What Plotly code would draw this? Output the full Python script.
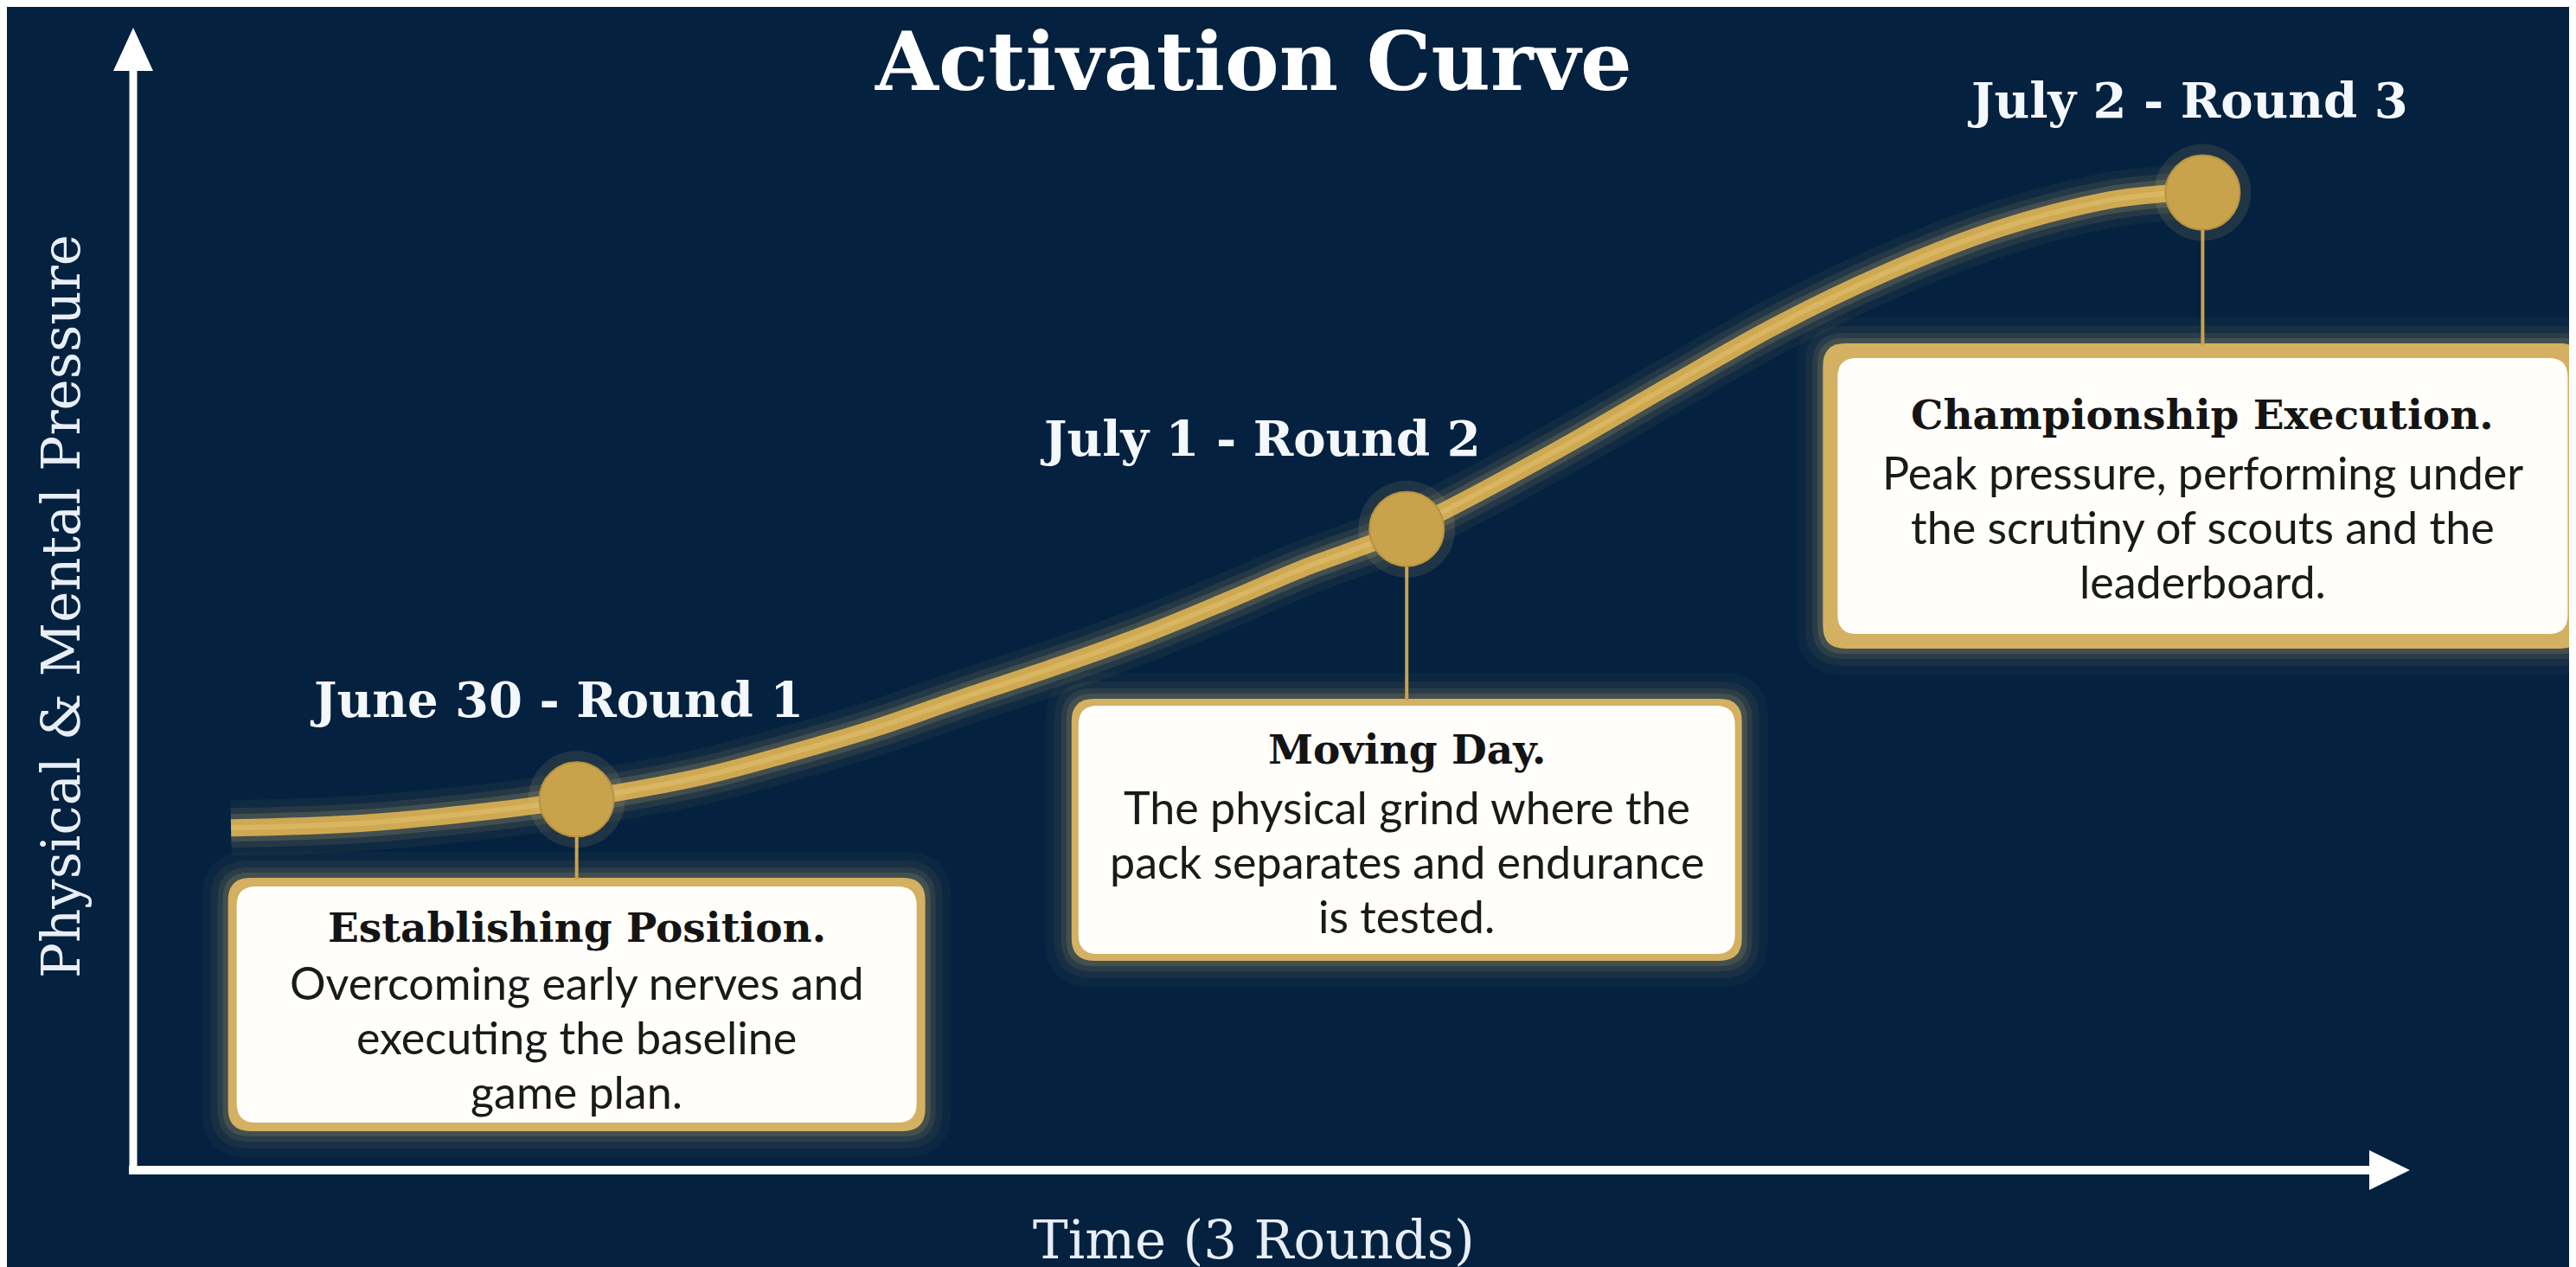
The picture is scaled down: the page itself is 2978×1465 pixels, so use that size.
import plotly.graph_objects as go

# ---------------- data ----------------
curve_time = [4.3, 10.0, 15.8, 19.5, 25.0, 28.8, 32.7, 36.6, 40.5, 44.4, 48.2, 51.5,
              56.0, 62.6, 67.4, 72.3, 77.1, 82.0, 86.8, 89.3, 91.0]
curve_pressure = [30.0, 30.4, 31.5, 32.5, 34.5, 36.5, 38.8, 41.5, 44.1, 46.9, 50.0, 52.8,
                  56.2, 63.1, 68.6, 74.1, 78.7, 82.5, 85.0, 85.6, 85.8]
round_labels = ["June 30 - Round 1", "July 1 - Round 2", "July 2 - Round 3"]
round_time = [19.5, 56.0, 91.0]
round_pressure = [32.5, 56.2, 85.7]
headlines = ["Establishing Position.", "Moving Day.", "Championship Execution."]
descriptions = [
    ["Overcoming early nerves and", "executing the baseline", "game plan."],
    ["The physical grind where the", "pack separates and endurance", "is tested."],
    ["Peak pressure, performing under", "the scrutiny of scouts and the", "leaderboard."],
]
title_text = "Activation Curve"
x_title = "Time (3 Rounds)"
y_title = "Physical & Mental Pressure"

# ---------------- layout / style ----------------
W, H = 2978, 1465
PL, PR, PT, PB = 146, 2775, 26, 1345   # plot area in pixels
BG = "#04213f"
GOLD = "#cfa952"
GOLD_LIGHT = "#e6c677"
SERIF = "DejaVu Serif"
SANS = "Lato"

box_w = [806, 775, 878]
box_h = [293, 303, 353]
box_top = [1007, 800, 389]
box_border = [10, 8, 17]
head_off = [57, 59, 82]
body_off = [121, 125, 149]
line_gap = 63
label_shift = [(-23, 115), (-169, 105), (-17, 107)]


def pxx(px):
    return (px - PL) / (PR - PL)


def pxy(py):
    return (PB - py) / (PB - PT)


def data_to_px_x(t):
    return PL + t / 100 * (PR - PL)


def data_y_from_px(py):
    return (PB - py) / (PB - PT) * 100


def rr_path(x0, y0, x1, y1, r):
    pts = [
        ("M", [(x0 + r, y0)]), ("L", [(x1 - r, y0)]), ("Q", [(x1, y0), (x1, y0 + r)]),
        ("L", [(x1, y1 - r)]), ("Q", [(x1, y1), (x1 - r, y1)]), ("L", [(x0 + r, y1)]),
        ("Q", [(x0, y1), (x0, y1 - r)]), ("L", [(x0, y0 + r)]), ("Q", [(x0, y0), (x0 + r, y0)]),
    ]
    s = ""
    for cmd, ps in pts:
        s += cmd + " " + " ".join(f"{pxx(a):.5f},{pxy(b):.5f}" for a, b in ps) + " "
    return s + "Z"


fig = go.Figure()

# curve glow
for wdt, op in [(64, 0.05), (46, 0.09), (32, 0.16)]:
    fig.add_trace(go.Scatter(x=curve_time, y=curve_pressure, mode="lines",
                             line=dict(color=GOLD_LIGHT, width=wdt, shape="spline", smoothing=1.0),
                             opacity=op, hoverinfo="skip", showlegend=False))
fig.add_trace(go.Scatter(x=curve_time, y=curve_pressure, mode="lines",
                         line=dict(color=GOLD, width=20, shape="spline", smoothing=1.0),
                         hoverinfo="skip", showlegend=False))
fig.add_trace(go.Scatter(x=curve_time, y=curve_pressure, mode="lines",
                         line=dict(color=GOLD_LIGHT, width=6, shape="spline", smoothing=1.0),
                         opacity=0.45, hoverinfo="skip", showlegend=False))

# markers
fig.add_trace(go.Scatter(x=round_time, y=round_pressure, mode="markers",
                         marker=dict(size=112, color=GOLD_LIGHT, opacity=0.12, line=dict(width=0)),
                         hoverinfo="skip", showlegend=False))
fig.add_trace(go.Scatter(x=round_time, y=round_pressure, mode="markers",
                         marker=dict(size=86, color="#c9a24c", line=dict(width=2, color="#b8923f")),
                         text=round_labels, hoverinfo="text", showlegend=False))

shapes = []
annotations = []

# axes with arrows
shapes.append(dict(type="line", xref="paper", yref="paper", x0=pxx(146), x1=pxx(146),
                   y0=pxy(1350), y1=pxy(70), line=dict(color="white", width=9), layer="above"))
shapes.append(dict(type="path", xref="paper", yref="paper",
                   path=f"M {pxx(123)},{pxy(74)} L {pxx(169)},{pxy(74)} L {pxx(146)},{pxy(24)} Z",
                   fillcolor="white", line=dict(width=0), layer="above"))
shapes.append(dict(type="line", xref="paper", yref="paper", x0=pxx(141), x1=pxx(2740),
                   y0=pxy(1345), y1=pxy(1345), line=dict(color="white", width=10), layer="above"))
shapes.append(dict(type="path", xref="paper", yref="paper",
                   path=f"M {pxx(2731)},{pxy(1322)} L {pxx(2731)},{pxy(1368)} L {pxx(2778)},{pxy(1345)} Z",
                   fillcolor="white", line=dict(width=0), layer="above"))

for i in range(3):
    cx = data_to_px_x(round_time[i])
    x0, x1 = cx - box_w[i] / 2, cx + box_w[i] / 2
    y0, y1 = box_top[i], box_top[i] + box_h[i]
    # connector
    shapes.append(dict(type="line", xref="x", yref="y", x0=round_time[i], x1=round_time[i],
                       y0=round_pressure[i], y1=data_y_from_px(y0 + 2),
                       line=dict(color="#c9a24c", width=4), layer="below"))
    # glow
    for g, op in [(30, 0.04), (20, 0.06), (12, 0.09), (6, 0.14)]:
        shapes.append(dict(type="path", xref="paper", yref="paper",
                           path=rr_path(x0 - g, y0 - g, x1 + g, y1 + g, 24 + g),
                           fillcolor=GOLD_LIGHT, opacity=op, line=dict(width=0), layer="below"))
    # gold border
    shapes.append(dict(type="path", xref="paper", yref="paper", path=rr_path(x0, y0, x1, y1, 26),
                       fillcolor="#d3b062", line=dict(width=0), layer="below"))
    b = box_border[i]
    shapes.append(dict(type="path", xref="paper", yref="paper",
                       path=rr_path(x0 + b, y0 + b, x1 - b, y1 - b, 22),
                       fillcolor="#fffefa", line=dict(width=0), layer="below"))

    # texts
    annotations.append(dict(xref="paper", yref="paper", x=pxx(cx), y=pxy(y0 + head_off[i]),
                            text=headlines[i], showarrow=False, xanchor="center", yanchor="middle",
                            font=dict(family=SERIF, size=47, color="#141414", weight="bold")))
    for j, line in enumerate(descriptions[i]):
        annotations.append(dict(xref="paper", yref="paper", x=pxx(cx),
                                y=pxy(y0 + body_off[i] + j * line_gap),
                                text=line, showarrow=False, xanchor="center", yanchor="middle",
                                font=dict(family=SANS, size=52, color="#1a1a1a")))
    # round label
    annotations.append(dict(xref="x", yref="y", x=round_time[i], y=round_pressure[i],
                            xshift=label_shift[i][0], yshift=label_shift[i][1],
                            text=round_labels[i], showarrow=False, xanchor="center", yanchor="middle",
                            font=dict(family=SERIF, size=56, color="#f4f8fc", weight="bold")))

# titles
annotations.append(dict(xref="paper", yref="paper", x=pxx(1441), y=pxy(63), text=title_text,
                        showarrow=False, xanchor="center", yanchor="middle",
                        font=dict(family=SERIF, size=94, color="white", weight="bold")))
annotations.append(dict(xref="paper", yref="paper", x=pxx(1441), y=pxy(1425), text=x_title,
                        showarrow=False, xanchor="center", yanchor="middle",
                        font=dict(family=SERIF, size=61, color="#e8eef6")))
annotations.append(dict(xref="paper", yref="paper", x=pxx(63), y=pxy(693), text=y_title,
                        showarrow=False, xanchor="center", yanchor="middle", textangle=-90,
                        font=dict(family=SERIF, size=61, color="#e8eef6")))

fig.update_layout(
    width=W, height=H,
    margin=dict(l=PL, r=W - PR, t=PT, b=H - PB, pad=0),
    paper_bgcolor=BG, plot_bgcolor=BG,
    xaxis=dict(range=[0, 100], visible=False, fixedrange=True),
    yaxis=dict(range=[0, 100], visible=False, fixedrange=True),
    shapes=shapes, annotations=annotations, showlegend=False,
)

fig.write_html("out.html")
